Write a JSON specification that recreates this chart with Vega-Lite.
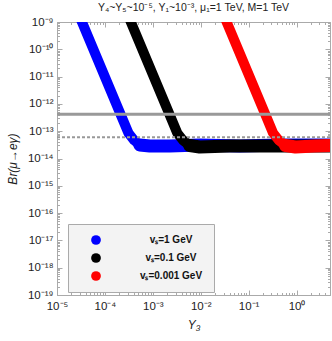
{
  "$schema": "https://vega.github.io/schema/vega-lite/v6.json",
  "width": 273,
  "height": 273,
  "autosize": "none",
  "padding": {"left": 57, "top": 22, "right": 2, "bottom": 46},
  "background": "white",
  "config": {"font": "Liberation Sans", "view": {"stroke": "#aaaaaa", "strokeWidth": 1}},
  "title": {"text": "Y₄~Y₅~10⁻⁵,  Y₁~10⁻³,  μ₁=1 TeV,  M=1 TeV", "fontSize": 10.5, "fontWeight": "normal", "font": "Liberation Sans", "offset": 3, "anchor": "middle", "color": "#222222"},
  "datasets": {
    "bands": [
      {"vs": "vₛ=1 GeV", "i": 0, "Y3": 1.746e-5, "Br": 1.49e-8},
      {"vs": "vₛ=1 GeV", "i": 1, "Y3": 3.32e-5, "Br": 1e-9},
      {"vs": "vₛ=1 GeV", "i": 2, "Y3": 2.154e-4, "Br": 3.92e-13},
      {"vs": "vₛ=1 GeV", "i": 3, "Y3": 3.10e-4, "Br": 8.59e-14},
      {"vs": "vₛ=1 GeV", "i": 4, "Y3": 4.02e-4, "Br": 4.77e-14},
      {"vs": "vₛ=1 GeV", "i": 5, "Y3": 5.36e-4, "Br": 3.13e-14},
      {"vs": "vₛ=1 GeV", "i": 6, "Y3": 8.66e-4, "Br": 2.87e-14},
      {"vs": "vₛ=1 GeV", "i": 7, "Y3": 2.26e-3, "Br": 2.87e-14},
      {"vs": "vₛ=1 GeV", "i": 8, "Y3": 9.53e-3, "Br": 3.13e-14},
      {"vs": "vₛ=1 GeV", "i": 9, "Y3": 6.49e-2, "Br": 2.87e-14},
      {"vs": "vₛ=1 GeV", "i": 10, "Y3": 0.442, "Br": 3.13e-14},
      {"vs": "vₛ=1 GeV", "i": 11, "Y3": 10, "Br": 3.13e-14},
      {"vs": "vₛ=0.1 GeV", "i": 0, "Y3": 1.83e-4, "Br": 1.49e-8},
      {"vs": "vₛ=0.1 GeV", "i": 1, "Y3": 3.48e-4, "Br": 1e-9},
      {"vs": "vₛ=0.1 GeV", "i": 2, "Y3": 2.26e-3, "Br": 3.92e-13},
      {"vs": "vₛ=0.1 GeV", "i": 3, "Y3": 3.24e-3, "Br": 8.59e-14},
      {"vs": "vₛ=0.1 GeV", "i": 4, "Y3": 4.22e-3, "Br": 4.77e-14},
      {"vs": "vₛ=0.1 GeV", "i": 5, "Y3": 5.90e-3, "Br": 2.99e-14},
      {"vs": "vₛ=0.1 GeV", "i": 6, "Y3": 9.53e-3, "Br": 2.64e-14},
      {"vs": "vₛ=0.1 GeV", "i": 7, "Y3": 4.02e-2, "Br": 2.87e-14},
      {"vs": "vₛ=0.1 GeV", "i": 8, "Y3": 0.1695, "Br": 2.87e-14},
      {"vs": "vₛ=0.1 GeV", "i": 9, "Y3": 0.715, "Br": 2.87e-14},
      {"vs": "vₛ=0.1 GeV", "i": 10, "Y3": 10, "Br": 2.87e-14},
      {"vs": "vₛ=0.001 GeV", "i": 0, "Y3": 1.83e-2, "Br": 1.49e-8},
      {"vs": "vₛ=0.001 GeV", "i": 1, "Y3": 3.48e-2, "Br": 1e-9},
      {"vs": "vₛ=0.001 GeV", "i": 2, "Y3": 0.226, "Br": 3.92e-13},
      {"vs": "vₛ=0.001 GeV", "i": 3, "Y3": 0.3236, "Br": 8.59e-14},
      {"vs": "vₛ=0.001 GeV", "i": 4, "Y3": 0.4217, "Br": 4.77e-14},
      {"vs": "vₛ=0.001 GeV", "i": 5, "Y3": 0.590, "Br": 2.99e-14},
      {"vs": "vₛ=0.001 GeV", "i": 6, "Y3": 0.953, "Br": 2.64e-14},
      {"vs": "vₛ=0.001 GeV", "i": 7, "Y3": 2.37, "Br": 2.87e-14},
      {"vs": "vₛ=0.001 GeV", "i": 8, "Y3": 10, "Br": 3.13e-14}
    ],
    "limits": [
      {"name": "MEG", "Br": 4.2e-13},
      {"name": "MEG II", "Br": 6e-14}
    ]
  },
  "layer": [
    {
      "encoding": {
        "y": {
          "field": "Br", "type": "quantitative",
          "scale": {"type": "log", "domain": [1e-19, 1e-9], "nice": false},
          "axis": {
            "title": "Br(μ→eγ)", "titleFontStyle": "italic", "titleFontWeight": "normal", "titleFontSize": 12, "titleColor": "#222222", "titlePadding": 8,
            "values": [1e-19,2e-19,3e-19,4e-19,5e-19,6e-19,7e-19,8e-19,9e-19,1e-18,2e-18,3e-18,4e-18,5e-18,6e-18,7e-18,8e-18,9e-18,1e-17,2e-17,3e-17,4e-17,5e-17,6e-17,7e-17,8e-17,9e-17,1e-16,2e-16,3e-16,4e-16,5e-16,6e-16,7e-16,8e-16,9e-16,1e-15,2e-15,3e-15,4e-15,5e-15,6e-15,7e-15,8e-15,9e-15,1e-14,2e-14,3e-14,4e-14,5e-14,6e-14,7e-14,8e-14,9e-14,1e-13,2e-13,3e-13,4e-13,5e-13,6e-13,7e-13,8e-13,9e-13,1e-12,2e-12,3e-12,4e-12,5e-12,6e-12,7e-12,8e-12,9e-12,1e-11,2e-11,3e-11,4e-11,5e-11,6e-11,7e-11,8e-11,9e-11,1e-10,2e-10,3e-10,4e-10,5e-10,6e-10,7e-10,8e-10,9e-10,1e-9],
            "labelExpr": "abs(log(datum.value)/LN10 - round(log(datum.value)/LN10)) < 0.001 ? ['10⁻¹⁹','10⁻¹⁸','10⁻¹⁷','10⁻¹⁶','10⁻¹⁵','10⁻¹⁴','10⁻¹³','10⁻¹²','10⁻¹¹','10⁻¹⁰','10⁻⁹'][round(log(datum.value)/LN10)+19] : ''",
            "labelFontSize": 11.5, "labelColor": "#222222", "labelPadding": 9, "labelFlush": false, "labelOverlap": false,
            "grid": false, "domainColor": "#aaaaaa",
            "tickColor": "#aaaaaa",
            "tickSize": {"condition": {"test": "abs(log(datum.value)/LN10 - round(log(datum.value)/LN10)) < 0.001", "value": -5}, "value": -2.5}
          }
        }
      },
      "layer": [
        {
          "data": {"name": "bands"},
          "mark": {"type": "point", "filled": true, "size": 80, "opacity": 1, "clip": true},
          "encoding": {
            "x": {
              "field": "Y3", "type": "quantitative",
              "scale": {"type": "log", "domain": [1e-5, 5], "nice": false},
              "axis": {
                "title": "Y₃", "titleFontStyle": "italic", "titleFontWeight": "normal", "titleFontSize": 12, "titleColor": "#222222", "titlePadding": 5,
                "values": [1e-5,2e-5,3e-5,4e-5,5e-5,6e-5,7e-5,8e-5,9e-5,1e-4,2e-4,3e-4,4e-4,5e-4,6e-4,7e-4,8e-4,9e-4,1e-3,2e-3,3e-3,4e-3,5e-3,6e-3,7e-3,8e-3,9e-3,1e-2,2e-2,3e-2,4e-2,5e-2,6e-2,7e-2,8e-2,9e-2,0.1,0.2,0.3,0.4,0.5,0.6,0.7,0.8,0.9,1,2,3,4,5],
                "labelExpr": "abs(log(datum.value)/LN10 - round(log(datum.value)/LN10)) < 0.001 ? ['10⁻⁵','10⁻⁴','10⁻³','10⁻²','10⁻¹','10⁰'][round(log(datum.value)/LN10)+5] : ''",
                "labelFontSize": 11.5, "labelColor": "#222222", "labelPadding": 10, "labelFlush": false, "labelOverlap": false,
                "grid": false, "domainColor": "#aaaaaa",
                "tickColor": "#aaaaaa",
                "tickSize": {"condition": {"test": "abs(log(datum.value)/LN10 - round(log(datum.value)/LN10)) < 0.001", "value": -5}, "value": -2.5}
              }
            },
            "color": {
              "field": "vs", "type": "nominal",
              "scale": {"domain": ["vₛ=1 GeV", "vₛ=0.1 GeV", "vₛ=0.001 GeV"], "range": ["#0000ff", "#000000", "#ff0000"]},
              "legend": {
                "title": null, "orient": "none", "legendX": 11, "legendY": 202,
                "padding": 11, "fillColor": "#f3f3f3", "strokeColor": "#aaaaaa",
                "symbolType": "circle", "symbolSize": 95, "symbolStrokeWidth": 0, "symbolOffset": 12,
                "labelFontSize": 10, "labelFontWeight": "bold", "labelColor": "#111111",
                "labelAlign": "center", "labelOffset": 70, "rowPadding": 8
              }
            }
          }
        },
        {
          "data": {"name": "bands"},
          "transform": [{"filter": "datum.vs == 'vₛ=1 GeV'"}],
          "mark": {"type": "line", "color": "#0000ff", "strokeWidth": 10, "strokeCap": "round", "strokeJoin": "round", "clip": true},
          "encoding": {
            "x": {"field": "Y3", "type": "quantitative", "scale": {"type": "log", "domain": [1e-5, 5], "nice": false}},
            "order": {"field": "i", "type": "quantitative"}
          }
        },
        {
          "data": {"name": "bands"},
          "transform": [{"filter": "datum.vs == 'vₛ=1 GeV' && datum.i >= 5"}],
          "mark": {"type": "line", "color": "#0000ff", "strokeWidth": 13, "strokeCap": "round", "strokeJoin": "round", "clip": true},
          "encoding": {
            "x": {"field": "Y3", "type": "quantitative", "scale": {"type": "log", "domain": [1e-5, 5], "nice": false}},
            "order": {"field": "i", "type": "quantitative"}
          }
        },
        {
          "data": {"name": "bands"},
          "transform": [{"filter": "datum.vs == 'vₛ=0.1 GeV'"}],
          "mark": {"type": "line", "color": "#000000", "strokeWidth": 10, "strokeCap": "round", "strokeJoin": "round", "clip": true},
          "encoding": {
            "x": {"field": "Y3", "type": "quantitative", "scale": {"type": "log", "domain": [1e-5, 5], "nice": false}},
            "order": {"field": "i", "type": "quantitative"}
          }
        },
        {
          "data": {"name": "bands"},
          "transform": [{"filter": "datum.vs == 'vₛ=0.1 GeV' && datum.i >= 5"}],
          "mark": {"type": "line", "color": "#000000", "strokeWidth": 13, "strokeCap": "round", "strokeJoin": "round", "clip": true},
          "encoding": {
            "x": {"field": "Y3", "type": "quantitative", "scale": {"type": "log", "domain": [1e-5, 5], "nice": false}},
            "order": {"field": "i", "type": "quantitative"}
          }
        },
        {
          "data": {"name": "bands"},
          "transform": [{"filter": "datum.vs == 'vₛ=0.001 GeV'"}],
          "mark": {"type": "line", "color": "#ff0000", "strokeWidth": 10, "strokeCap": "round", "strokeJoin": "round", "clip": true},
          "encoding": {
            "x": {"field": "Y3", "type": "quantitative", "scale": {"type": "log", "domain": [1e-5, 5], "nice": false}},
            "order": {"field": "i", "type": "quantitative"}
          }
        },
        {
          "data": {"name": "bands"},
          "transform": [{"filter": "datum.vs == 'vₛ=0.001 GeV' && datum.i >= 5"}],
          "mark": {"type": "line", "color": "#ff0000", "strokeWidth": 13, "strokeCap": "round", "strokeJoin": "round", "clip": true},
          "encoding": {
            "x": {"field": "Y3", "type": "quantitative", "scale": {"type": "log", "domain": [1e-5, 5], "nice": false}},
            "order": {"field": "i", "type": "quantitative"}
          }
        },
        {
          "data": {"name": "limits"},
          "transform": [{"filter": "datum.name == 'MEG'"}],
          "mark": {"type": "rule", "color": "#999999", "strokeWidth": 3}
        },
        {
          "data": {"name": "limits"},
          "transform": [{"filter": "datum.name == 'MEG II'"}],
          "mark": {"type": "rule", "color": "#999999", "strokeWidth": 2, "strokeDash": [3, 2]}
        }
      ]
    },
    {
      "data": {"name": "bands"},
      "mark": {"type": "point", "opacity": 0, "clip": true},
      "encoding": {
        "x": {
          "field": "Y3", "type": "quantitative",
          "scale": {"type": "log", "domain": [1e-5, 5], "nice": false},
          "axis": {
            "orient": "top", "title": null, "labels": false, "domain": false,
            "values": [1e-5,2e-5,3e-5,4e-5,5e-5,6e-5,7e-5,8e-5,9e-5,1e-4,2e-4,3e-4,4e-4,5e-4,6e-4,7e-4,8e-4,9e-4,1e-3,2e-3,3e-3,4e-3,5e-3,6e-3,7e-3,8e-3,9e-3,1e-2,2e-2,3e-2,4e-2,5e-2,6e-2,7e-2,8e-2,9e-2,0.1,0.2,0.3,0.4,0.5,0.6,0.7,0.8,0.9,1,2,3,4,5],
            "grid": false, "tickColor": "#aaaaaa",
            "tickSize": {"condition": {"test": "abs(log(datum.value)/LN10 - round(log(datum.value)/LN10)) < 0.001", "value": -5}, "value": -2.5}
          }
        },
        "y": {
          "field": "Br", "type": "quantitative",
          "scale": {"type": "log", "domain": [1e-19, 1e-9], "nice": false},
          "axis": {
            "orient": "right", "title": null, "labels": false, "domain": false,
            "values": [1e-19,2e-19,3e-19,4e-19,5e-19,6e-19,7e-19,8e-19,9e-19,1e-18,2e-18,3e-18,4e-18,5e-18,6e-18,7e-18,8e-18,9e-18,1e-17,2e-17,3e-17,4e-17,5e-17,6e-17,7e-17,8e-17,9e-17,1e-16,2e-16,3e-16,4e-16,5e-16,6e-16,7e-16,8e-16,9e-16,1e-15,2e-15,3e-15,4e-15,5e-15,6e-15,7e-15,8e-15,9e-15,1e-14,2e-14,3e-14,4e-14,5e-14,6e-14,7e-14,8e-14,9e-14,1e-13,2e-13,3e-13,4e-13,5e-13,6e-13,7e-13,8e-13,9e-13,1e-12,2e-12,3e-12,4e-12,5e-12,6e-12,7e-12,8e-12,9e-12,1e-11,2e-11,3e-11,4e-11,5e-11,6e-11,7e-11,8e-11,9e-11,1e-10,2e-10,3e-10,4e-10,5e-10,6e-10,7e-10,8e-10,9e-10,1e-9],
            "grid": false, "tickColor": "#aaaaaa",
            "tickSize": {"condition": {"test": "abs(log(datum.value)/LN10 - round(log(datum.value)/LN10)) < 0.001", "value": -5}, "value": -2.5}
          }
        }
      }
    }
  ],
  "resolve": {"scale": {"x": "independent", "y": "independent"}}
}
